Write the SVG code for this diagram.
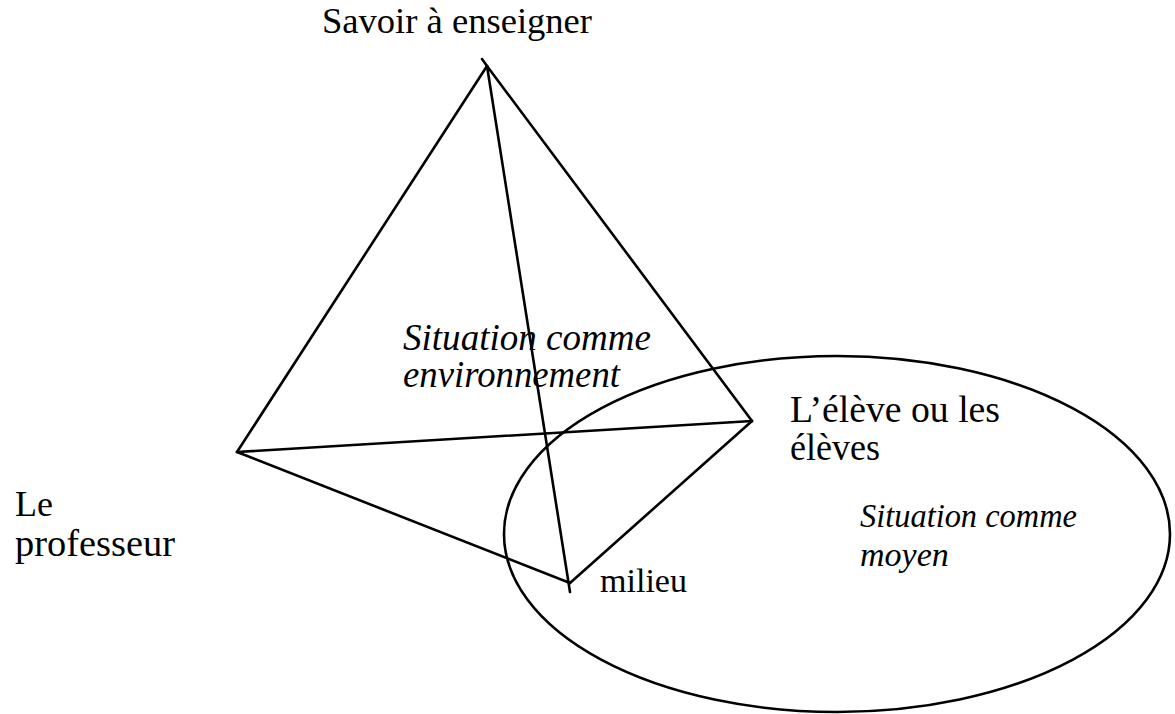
<svg xmlns="http://www.w3.org/2000/svg" width="1175" height="714" viewBox="0 0 1175 714">
<style>
.t{font-family:"Liberation Serif","Times New Roman",serif;fill:#000;}
.i{font-style:italic;}
.ln{stroke:#000;stroke-width:2.6;fill:none;stroke-linecap:round;}
</style>
<rect width="1175" height="714" fill="#fff"/>
<g id="ellipse-moyen">
<ellipse cx="837" cy="534" rx="333" ry="178" class="ln" stroke-width="2.4"/>
</g>
<g id="connectors">
<line class="ln" x1="482" y1="59" x2="487" y2="66"/>
<line class="ln" x1="487" y1="66" x2="237" y2="452"/>
<line class="ln" x1="487" y1="66" x2="752" y2="421"/>
<line class="ln" x1="487" y1="66" x2="570" y2="592"/>
<line class="ln" x1="237" y1="452" x2="752" y2="421"/>
<line class="ln" x1="237" y1="452" x2="570" y2="583"/>
<line class="ln" x1="752" y1="421" x2="570" y2="583"/>
</g>
<g id="savoir"><text class="t" x="322" y="33" font-size="36" textLength="270" lengthAdjust="spacingAndGlyphs">Savoir à enseigner</text></g>
<g id="situation-environnement">
<text class="t i" x="403" y="350" font-size="37" textLength="248" lengthAdjust="spacingAndGlyphs">Situation comme</text>
<text class="t i" x="403" y="387" font-size="37" textLength="217" lengthAdjust="spacingAndGlyphs">environnement</text>
</g>
<g id="eleve">
<text class="t" x="790" y="422" font-size="37" textLength="210" lengthAdjust="spacingAndGlyphs">L’élève ou les</text>
<text class="t" x="790" y="460" font-size="37" textLength="90" lengthAdjust="spacingAndGlyphs">élèves</text>
</g>
<g id="situation-moyen">
<text class="t i" x="860" y="527" font-size="34" textLength="217" lengthAdjust="spacingAndGlyphs">Situation comme</text>
<text class="t i" x="860" y="566" font-size="34">moyen</text>
</g>
<g id="professeur">
<text class="t" x="15" y="516" font-size="36">Le</text>
<text class="t" x="15" y="556" font-size="37" textLength="160" lengthAdjust="spacingAndGlyphs">professeur</text>
</g>
<g id="milieu"><text class="t" x="600" y="592" font-size="34" textLength="87" lengthAdjust="spacingAndGlyphs">milieu</text></g>
</svg>
